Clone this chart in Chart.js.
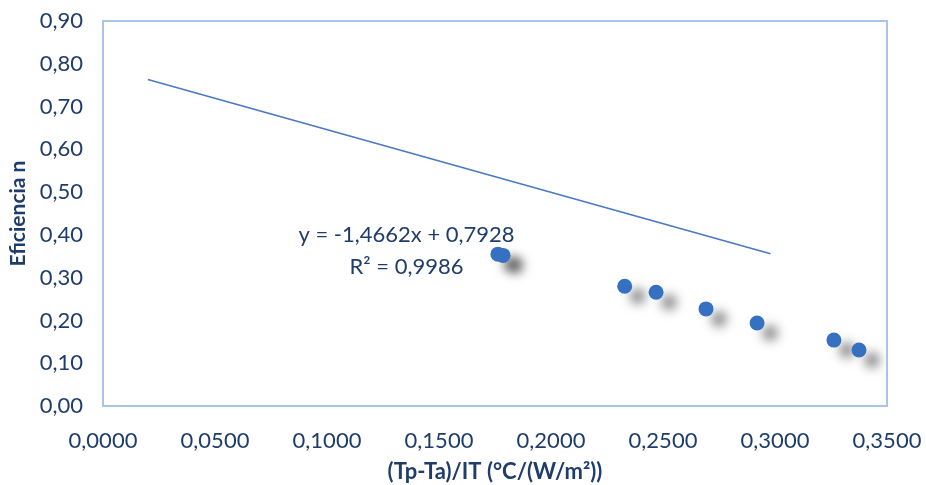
<!DOCTYPE html>
<html>
<head>
<meta charset="utf-8">
<script src="https://cdn.jsdelivr.net/npm/chart.js@4.4.1/dist/chart.umd.min.js"></script>
<style>
  html, body { margin: 0; padding: 0; background: #ffffff; }
  #wrap { width: 926px; height: 485px; position: relative; }
</style>
</head>
<body>
<div id="wrap"><canvas id="c" width="926" height="485"></canvas></div>
<script>
// Measured collector efficiency vs. reduced temperature
const reducedTemp = [0.1763, 0.1786, 0.2329, 0.2469, 0.2692, 0.2920, 0.3263, 0.3375];
const efficiency  = [0.355, 0.352, 0.280, 0.266, 0.227, 0.194, 0.154, 0.131];

// Linear fit y = slope * x + intercept, drawn over the fitted range
const fitSlope = -1.4662;
const fitIntercept = 0.7928;
const fitRange = [0.02, 0.298];
const fitLabel = ['y = -1,4662x + 0,7928', 'R² = 0,9986'];

const xTicks = [0, 0.05, 0.10, 0.15, 0.20, 0.25, 0.30, 0.35];
const yTicks = [0, 0.1, 0.2, 0.3, 0.4, 0.5, 0.6, 0.7, 0.8, 0.9];

const textColor = '#1F3D6B';
const fontFamily = 'Lato, "Noto Sans", sans-serif';

const points = reducedTemp.map((x, i) => ({ x, y: efficiency[i] }));
const fitLine = fitRange.map(x => ({ x, y: fitSlope * x + fitIntercept }));

const fmt = (v, d) => v.toFixed(d).replace('.', ',');

// Edge labels may overhang the plot frame; keep the frame where the layout padding puts it
const noOverhang = s => {
  s.paddingLeft = s.paddingRight = s.paddingTop = s.paddingBottom = 0;
};

// Soft drop shadow under the markers
const shadowPlugin = {
  id: 'markerShadow',
  beforeDatasetDraw(chart, args) {
    if (args.index !== 1) return;
    const ctx = chart.ctx;
    ctx.save();
    ctx.shadowColor = 'rgba(0,0,0,0.5)';
    ctx.shadowBlur = 11;
    ctx.shadowOffsetX = 13;
    ctx.shadowOffsetY = 10;
  },
  afterDatasetDraw(chart, args) {
    if (args.index !== 1) return;
    chart.ctx.restore();
  }
};

// Plot-area frame and trendline equation
const framePlugin = {
  id: 'frame',
  afterDraw(chart) {
    const { ctx, chartArea: a, scales } = chart;
    ctx.save();
    ctx.strokeStyle = '#A9C4E6';
    ctx.lineWidth = 2;
    ctx.strokeRect(a.left, a.top, a.right - a.left, a.bottom - a.top);

    ctx.fillStyle = textColor;
    ctx.font = '22px ' + fontFamily;
    ctx.textAlign = 'center';
    ctx.textBaseline = 'middle';
    const lx = scales.x.getPixelForValue(0.1355);
    const ly = scales.y.getPixelForValue(0.399);
    ctx.fillText(fitLabel[0], lx, ly);
    ctx.fillText(fitLabel[1], lx, ly + 32);
    ctx.restore();
  }
};

new Chart(document.getElementById('c'), {
  type: 'scatter',
  data: {
    datasets: [
      {
        type: 'line',
        data: fitLine,
        borderColor: '#4A78C2',
        borderWidth: 1.6,
        pointRadius: 0,
        fill: false
      },
      {
        data: points,
        backgroundColor: '#3571C0',
        borderColor: '#3571C0',
        borderWidth: 0,
        pointRadius: 7.5
      }
    ]
  },
  plugins: [shadowPlugin, framePlugin],
  options: {
    responsive: false,
    animation: false,
    layout: { padding: { top: 21, right: 39, left: 0, bottom: 0 } },
    plugins: { legend: { display: false }, tooltip: { enabled: false } },
    scales: {
      x: {
        type: 'linear',
        min: 0, max: 0.35,
        afterBuildTicks(s) { s.ticks = xTicks.map(v => ({ value: v })); },
        afterFit(s) { s.height = 79; noOverhang(s); },
        grid: { display: false, drawTicks: false },
        border: { display: false },
        ticks: {
          padding: 22,
          color: textColor,
          font: { family: fontFamily, size: 22 },
          maxRotation: 0,
          callback: v => fmt(v, 4)
        },
        title: {
          display: true,
          text: '(Tp-Ta)/IT (°C/(W/m²))',
          color: textColor,
          font: { family: fontFamily, size: 22, weight: 'bold' },
          padding: { top: 0, bottom: 0 }
        }
      },
      y: {
        min: 0, max: 0.9,
        afterBuildTicks(s) { s.ticks = yTicks.map(v => ({ value: v })); },
        afterFit(s) { s.width = 103; noOverhang(s); },
        grid: { display: false, drawTicks: false },
        border: { display: false },
        ticks: {
          padding: 20,
          color: textColor,
          font: { family: fontFamily, size: 22 },
          callback: v => fmt(v, 2)
        },
        title: {
          display: true,
          text: 'Eficiencia n',
          color: textColor,
          font: { family: fontFamily, size: 21, weight: 'bold' },
          padding: { top: 6, bottom: 0 }
        }
      }
    }
  }
});
</script>
</body>
</html>
